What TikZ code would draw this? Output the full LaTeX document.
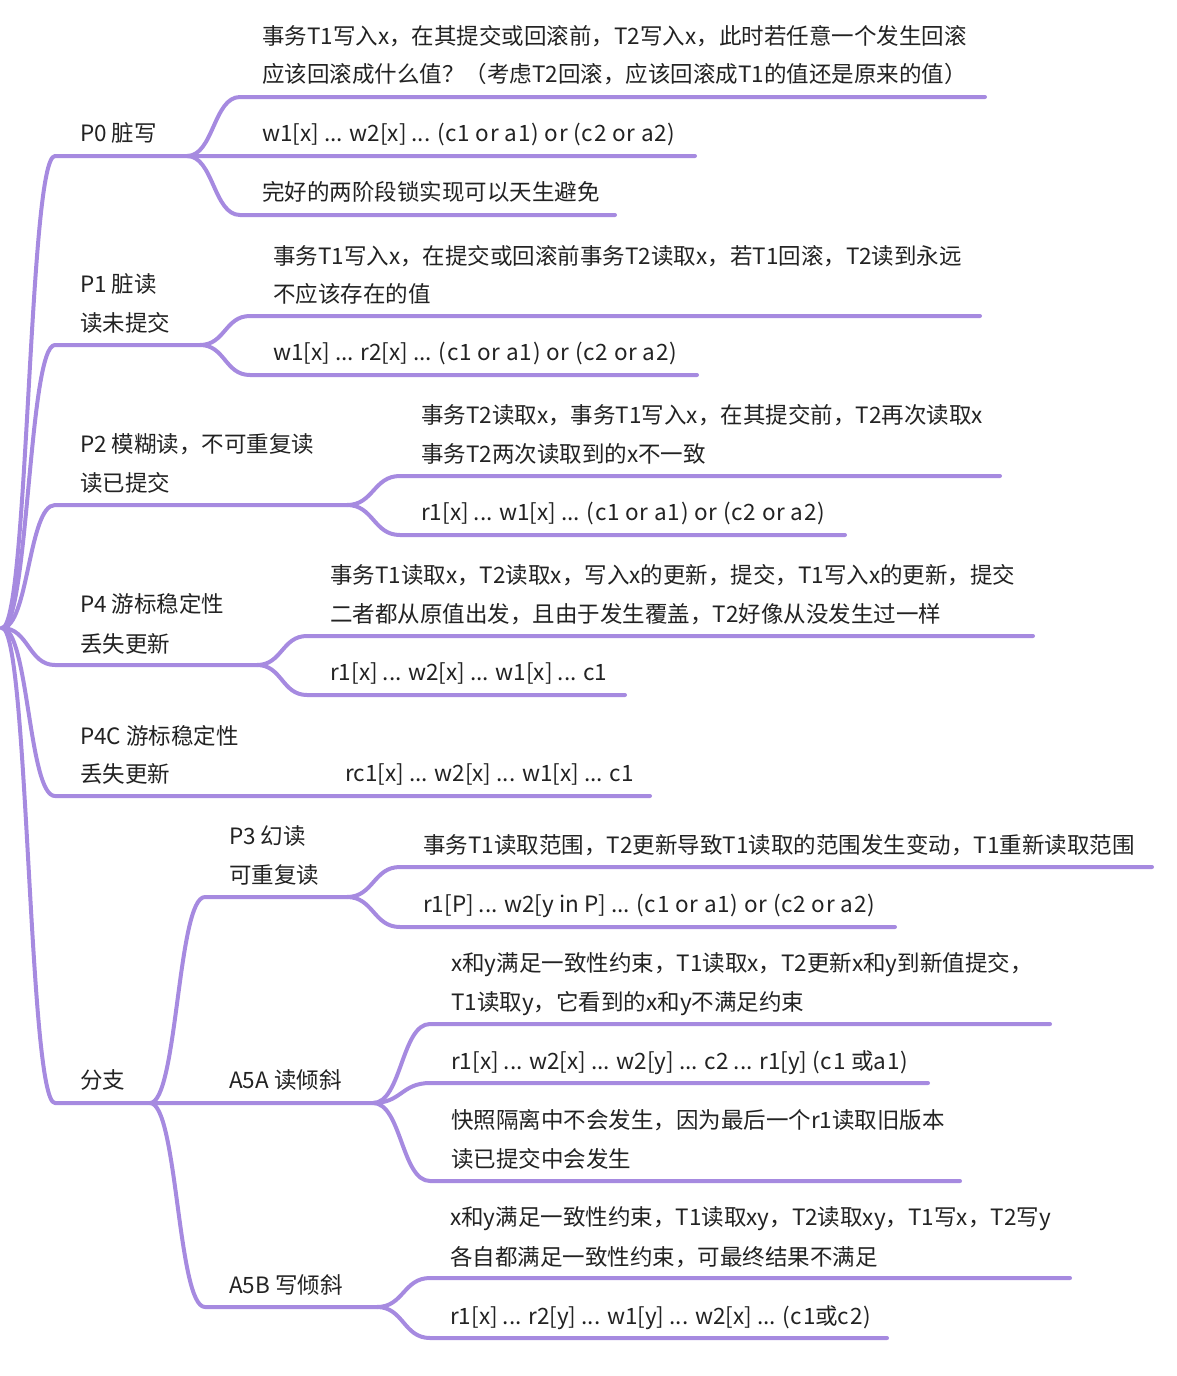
\documentclass[tikz,border=0pt]{standalone}
\usepackage{fontspec}
\setmainfont{Noto Sans CJK SC}
\usetikzlibrary{calc}
\definecolor{lav}{RGB}{166,138,224}
\definecolor{tc}{RGB}{34,34,34}
\newcommand\wsp[1]{{\addfontfeature{LetterSpace=3.2}#1}}
\tikzset{
  ln/.style={draw=lav, line width=4pt, line cap=round, line join=round},
  sc/.style={to path={.. controls ($(\tikztostart)!0.5!(\tikztostart-|\tikztotarget)$) and ($(\tikztotarget)!0.5!(\tikztotarget-|\tikztostart)$) .. (\tikztotarget) \tikztonodes}},
  txt/.style={anchor=base west, inner sep=0pt, text=tc, font=\fontsize{22.5pt}{30pt}\selectfont}
}
\begin{document}
\begin{tikzpicture}[x=1pt,y=-1pt]
\useasboundingbox (0,0) rectangle (1177,1376);
\coordinate (root) at (2,628);
% ---------- P0
\coordinate (p0s) at (55,156); \coordinate (p0e) at (187,156);
\node[txt] (p0t) at (80,141) {P0 脏写};
\coordinate (c01s) at (240,97); \coordinate (c01e) at (985,97);
\node[txt] (c01a) at (262,44) {事务T1写入x，在其提交或回滚前，T2写入x，此时若任意一个发生回滚};
\node[txt] (c01b) at (262,82) {应该回滚成什么值？（考虑T2回滚，应该回滚成T1的值还是原来的值）};
\coordinate (c02e) at (695,156);
\node[txt] (c02t) at (262,141) {w1[x] ... w2[x] ... \wsp{(c1 or a1) or (c2 or a2)}};
\coordinate (c03s) at (240,215); \coordinate (c03e) at (615,215);
\node[txt] (c03t) at (262,200) {完好的两阶段锁实现可以天生避免};
% ---------- P1
\coordinate (p1s) at (55,345); \coordinate (p1e) at (200,345);
\node[txt] (p1a) at (80,292) {P1 脏读};
\node[txt] (p1b) at (80,331) {读未提交};
\coordinate (c11s) at (250,316); \coordinate (c11e) at (980,316);
\node[txt] (c11a) at (273,264) {事务T1写入x，在提交或回滚前事务T2读取x，若T1回滚，T2读到永远};
\node[txt] (c11b) at (273,302) {不应该存在的值};
\coordinate (c12s) at (250,375); \coordinate (c12e) at (697,375);
\node[txt] (c12t) at (273,360) {w1[x] ... r2[x] ... \wsp{(c1 or a1) or (c2 or a2)}};
% ---------- P2
\coordinate (p2s) at (55,505); \coordinate (p2e) at (347,505);
\node[txt] (p2a) at (80,452) {P2 模糊读，不可重复读};
\node[txt] (p2b) at (80,491) {读已提交};
\coordinate (c21s) at (400,476); \coordinate (c21e) at (1000,476);
\node[txt] (c21a) at (421,423) {事务T2读取x，事务T1写入x，在其提交前，T2再次读取x};
\node[txt] (c21b) at (421,462) {事务T2两次读取到的x不一致};
\coordinate (c22s) at (400,535); \coordinate (c22e) at (845,535);
\node[txt] (c22t) at (421,520) {r1[x] ... w1[x] ... \wsp{(c1 or a1) or (c2 or a2)}};
% ---------- P4
\coordinate (p4s) at (55,665); \coordinate (p4e) at (257,665);
\node[txt] (p4a) at (80,612) {P4 游标稳定性};
\node[txt] (p4b) at (80,652) {丢失更新};
\coordinate (c41s) at (307,636); \coordinate (c41e) at (1033,636);
\node[txt] (c41a) at (330,583) {事务T1读取x，T2读取x，写入x的更新，提交，T1写入x的更新，提交};
\node[txt] (c41b) at (330,622) {二者都从原值出发，且由于发生覆盖，T2好像从没发生过一样};
\coordinate (c42s) at (307,695); \coordinate (c42e) at (625,695);
\node[txt] (c42t) at (330,680) {r1[x] ... w2[x] ... w1[x] ... c1};
% ---------- P4C
\coordinate (p4cs) at (55,796); \coordinate (p4ce) at (650,796);
\node[txt] (p4ca) at (80,744) {P4C 游标稳定性};
\node[txt] (p4cb) at (80,782) {丢失更新};
\node[txt] (c4ct) at (345,781) {rc1[x] ... w2[x] ... w1[x] ... c1};
% ---------- branch
\coordinate (bs) at (55,1103); \coordinate (be) at (150,1103);
\node[txt] (bt) at (80,1088) {分支};
% P3
\coordinate (p3s) at (205,897); \coordinate (p3e) at (347,897);
\node[txt] (p3a) at (229,844) {P3 幻读};
\node[txt] (p3b) at (229,883) {可重复读};
\coordinate (c31s) at (400,867); \coordinate (c31e) at (1152,867);
\node[txt] (c31t) at (423,853) {事务T1读取范围，T2更新导致T1读取的范围发生变动，T1重新读取范围};
\coordinate (c32s) at (400,927); \coordinate (c32e) at (895,927);
\node[txt] (c32t) at (423,912) {r1[P] ... w2[y in P] ... \wsp{(c1 or a1) or (c2 or a2)}};
% A5A
\coordinate (a5e) at (373,1103);
\node[txt] (a5t) at (229,1088) {A5A 读倾斜};
\coordinate (c51s) at (430,1024); \coordinate (c51e) at (1050,1024);
\node[txt] (c51a) at (451,971) {x和y满足一致性约束，T1读取x，T2更新x和y到新值提交，};
\node[txt] (c51b) at (451,1010) {T1读取y，它看到的x和y不满足约束};
\coordinate (c52s) at (430,1083); \coordinate (c52e) at (928,1083);
\node[txt] (c52t) at (451,1069) {r1[x] ... w2[x] ... w2[y] ... c2 ... r1[y] \wsp{(c1 }或\wsp{a1)}};
\coordinate (c53s) at (430,1181); \coordinate (c53e) at (960,1181);
\node[txt] (c53a) at (451,1128) {快照隔离中不会发生，因为最后一个r1读取旧版本};
\node[txt] (c53b) at (451,1167) {读已提交中会发生};
% A5B
\coordinate (a6s) at (205,1307); \coordinate (a6e) at (377,1307);
\node[txt] (a6t) at (229,1293) {A5B 写倾斜};
\coordinate (c61s) at (430,1278); \coordinate (c61e) at (1070,1278);
\node[txt] (c61a) at (450,1225) {x和y满足一致性约束，T1读取xy，T2读取xy，T1写x，T2写y};
\node[txt] (c61b) at (450,1265) {各自都满足一致性约束，可最终结果不满足};
\coordinate (c62s) at (430,1338); \coordinate (c62e) at (887,1338);
\node[txt] (c62t) at (450,1324) {r1[x] ... r2[y] ... w1[y] ... w2[x] ... \wsp{(c1}或\wsp{c2)}};
% ---------- connectors
\draw[ln] (root) to[sc] (p0s) -- (p0e) -- (c02e);
\draw[ln] (p0e) to[sc] (c01s) -- (c01e);
\draw[ln] (p0e) to[sc] (c03s) -- (c03e);
\draw[ln] (root) to[sc] (p1s) -- (p1e);
\draw[ln] (p1e) to[sc] (c11s) -- (c11e);
\draw[ln] (p1e) to[sc] (c12s) -- (c12e);
\draw[ln] (root) to[sc] (p2s) -- (p2e);
\draw[ln] (p2e) to[sc] (c21s) -- (c21e);
\draw[ln] (p2e) to[sc] (c22s) -- (c22e);
\draw[ln] (root) to[sc] (p4s) -- (p4e);
\draw[ln] (p4e) to[sc] (c41s) -- (c41e);
\draw[ln] (p4e) to[sc] (c42s) -- (c42e);
\draw[ln] (root) to[sc] (p4cs) -- (p4ce);
\draw[ln] (root) to[sc] (bs) -- (be) -- (a5e);
\draw[ln] (be) to[sc] (p3s) -- (p3e);
\draw[ln] (p3e) to[sc] (c31s) -- (c31e);
\draw[ln] (p3e) to[sc] (c32s) -- (c32e);
\draw[ln] (a5e) to[sc] (c51s) -- (c51e);
\draw[ln] (a5e) to[sc] (c52s) -- (c52e);
\draw[ln] (a5e) to[sc] (c53s) -- (c53e);
\draw[ln] (be) to[sc] (a6s) -- (a6e);
\draw[ln] (a6e) to[sc] (c61s) -- (c61e);
\draw[ln] (a6e) to[sc] (c62s) -- (c62e);
\end{tikzpicture}
\end{document}
